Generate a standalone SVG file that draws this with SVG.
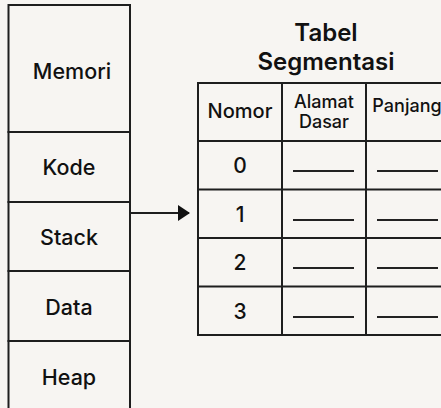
<svg xmlns="http://www.w3.org/2000/svg" width="441" height="408" viewBox="0 0 441 408">
<style>
.ln{stroke:#1e1e1e;stroke-width:2;fill:none}
.bx{stroke:#1e1e1e;stroke-width:2;fill:#f7f5f2}
text{font-family:Inter,"Liberation Sans",sans-serif;fill:#111;text-anchor:middle}
.m{font-size:21.5px;font-weight:500}
.t{font-size:24px;font-weight:600}
.h{font-size:20px;font-weight:500}
.s{font-size:18px;font-weight:500}
.n{font-size:21px;font-weight:500}
.d{stroke:#222;stroke-width:2}
</style>
<defs>
<marker id="ah" markerWidth="12" markerHeight="16" refX="11" refY="8" orient="auto" markerUnits="userSpaceOnUse">
<path d="M0,0 L12,8 L0,16 Z" fill="#111"/>
</marker>
</defs>
<rect width="441" height="408" fill="#f7f5f2"/>
<g id="memori"><rect class="bx" x="8.5" y="5" width="121.5" height="127"/><text class="m" x="72" y="79">Memori</text></g>
<g id="kode"><rect class="bx" x="8.5" y="132" width="121.5" height="70"/><text class="m" x="69" y="175">Kode</text></g>
<g id="stack"><rect class="bx" x="8.5" y="202" width="121.5" height="69"/><text class="m" x="69" y="245">Stack</text></g>
<g id="data"><rect class="bx" x="8.5" y="271" width="121.5" height="70"/><text class="m" x="69" y="315">Data</text></g>
<g id="heap"><rect class="bx" x="8.5" y="341" width="121.5" height="72"/><text class="m" x="69" y="385">Heap</text></g>
<g id="judul"><text class="t" x="326" y="41">Tabel</text><text class="t" x="326" y="70">Segmentasi</text></g>
<g id="tabel">
<rect class="bx" x="198" y="83" width="250" height="252"/>
<line class="ln" x1="282" y1="83" x2="282" y2="335"/>
<line class="ln" x1="366" y1="83" x2="366" y2="335"/>
<line class="ln" x1="198" y1="141" x2="448" y2="141"/>
<line class="ln" x1="198" y1="189.5" x2="448" y2="189.5"/>
<line class="ln" x1="198" y1="238" x2="448" y2="238"/>
<line class="ln" x1="198" y1="286.5" x2="448" y2="286.5"/>
<text class="h" x="240" y="118">Nomor</text>
<text class="s" x="324" y="108">Alamat</text>
<text class="s" x="324" y="128">Dasar</text>
<text class="s" x="407" y="112">Panjang</text>
<text class="n" x="240" y="173">0</text>
<text class="n" x="240" y="222">1</text>
<text class="n" x="240" y="270">2</text>
<text class="n" x="240" y="319">3</text>
<line class="d" x1="293" y1="171" x2="354" y2="171"/><line class="d" x1="377" y1="171" x2="438" y2="171"/>
<line class="d" x1="293" y1="220" x2="354" y2="220"/><line class="d" x1="377" y1="220" x2="438" y2="220"/>
<line class="d" x1="293" y1="268" x2="354" y2="268"/><line class="d" x1="377" y1="268" x2="438" y2="268"/>
<line class="d" x1="293" y1="317" x2="354" y2="317"/><line class="d" x1="377" y1="317" x2="438" y2="317"/>
</g>
<g id="konektor"><line class="ln" x1="130" y1="213" x2="189" y2="213" marker-end="url(#ah)"/></g>
</svg>
